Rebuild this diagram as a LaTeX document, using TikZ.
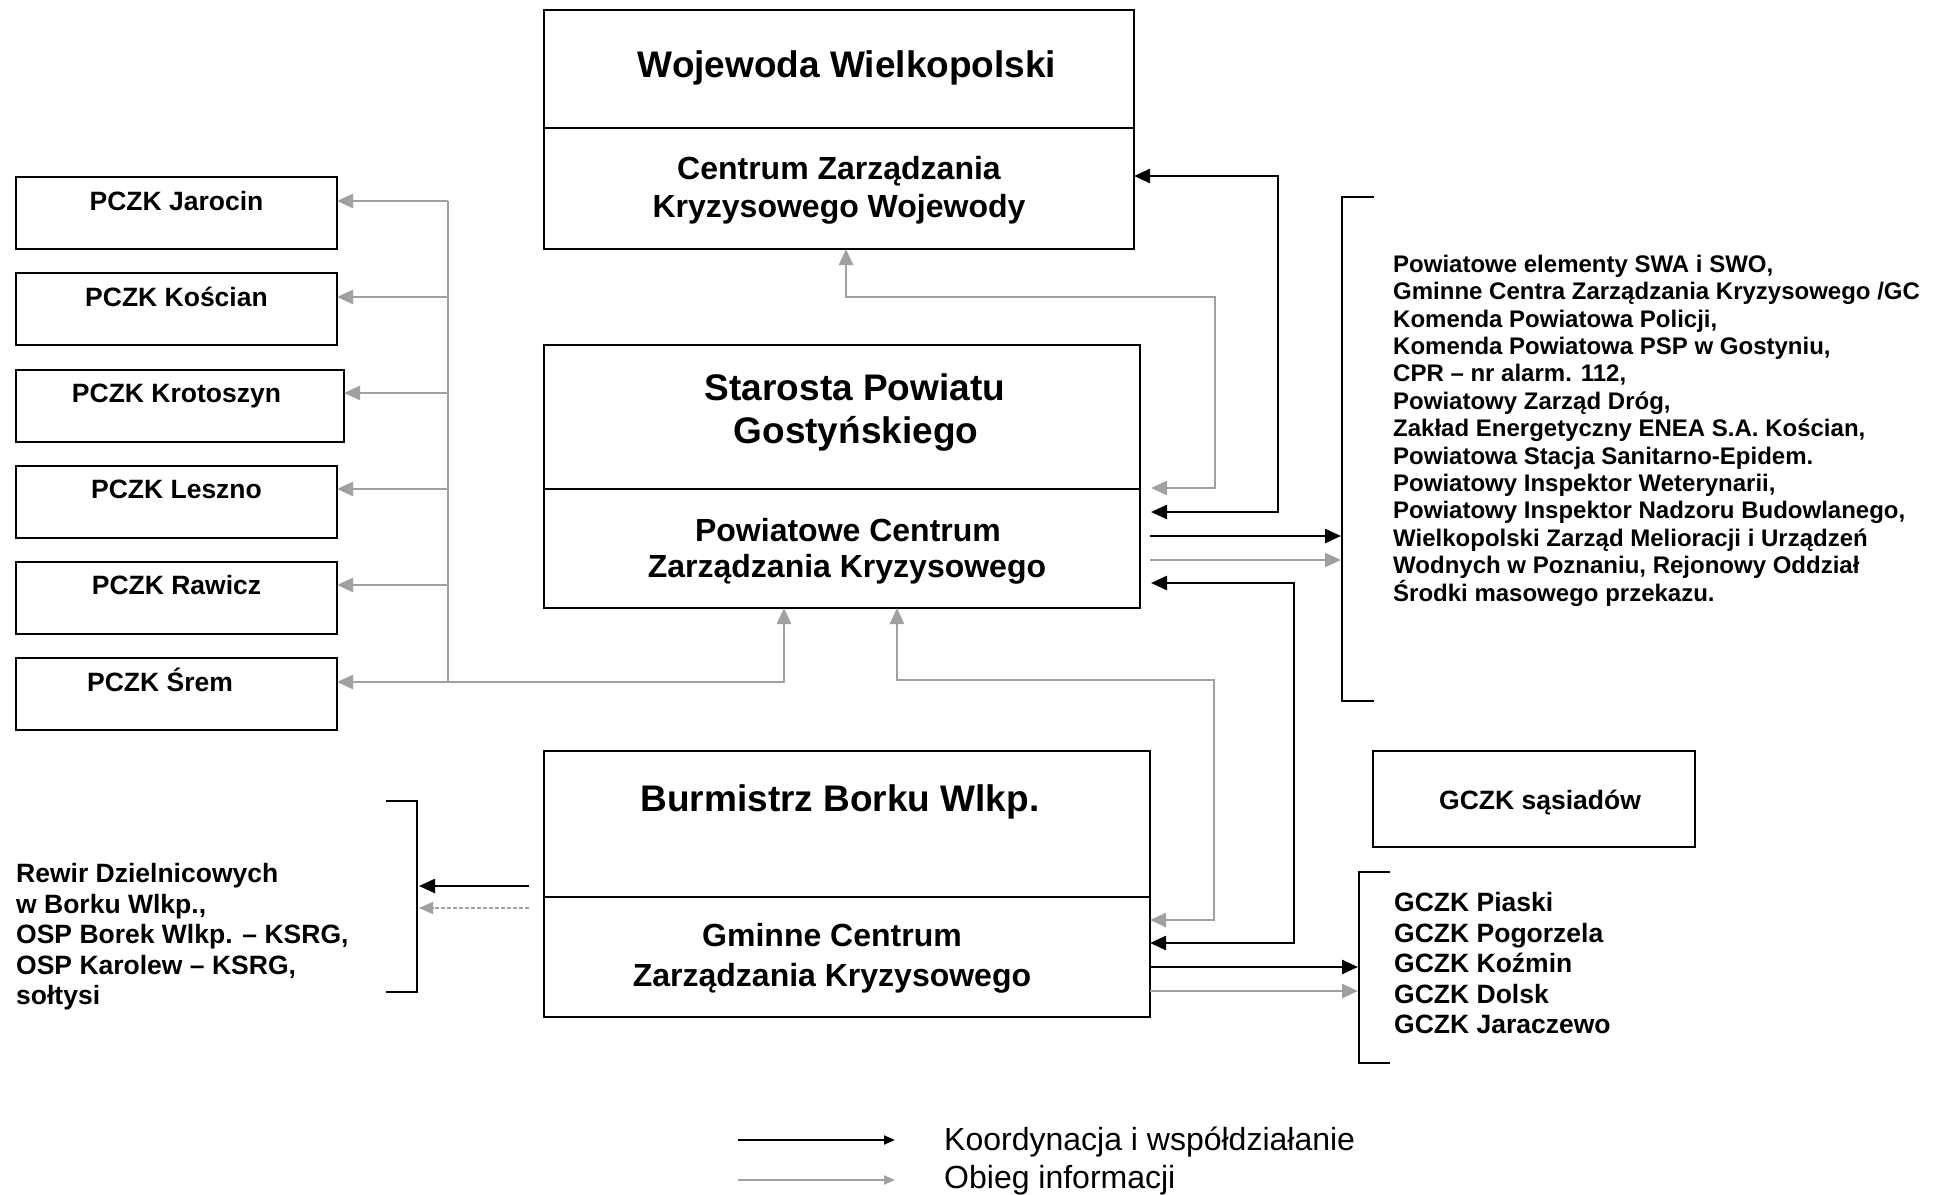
\documentclass[tikz,border=0pt]{standalone}
\usepackage{fontspec}
\setmainfont{Liberation Sans}
\usetikzlibrary{arrows.meta,calc}
\definecolor{infgray}{HTML}{A0A0A0}
\begin{document}
\begin{tikzpicture}[x=1pt,y=-1pt,
  box/.style={draw, line width=2.2pt, rectangle, inner sep=0pt, outer sep=0pt, anchor=north west},
  divline/.style={line width=2.2pt},
  co/.style={line width=2.5pt, draw=black},
  inf/.style={line width=2.5pt, draw=infgray},
  infdash/.style={line width=1.6pt, draw=infgray, dash pattern=on 4pt off 2pt},
  brk/.style={line width=2.2pt},
  ttl/.style={font=\fontsize{37}{42}\selectfont\bfseries, anchor=base, inner sep=0pt},
  sub/.style={font=\fontsize{32}{37}\selectfont\bfseries, anchor=base, inner sep=0pt},
  lab/.style={font=\fontsize{26.5}{30}\selectfont\bfseries, anchor=base, inner sep=0pt},
  labw/.style={font=\fontsize{26.5}{30}\selectfont\bfseries, anchor=base west, inner sep=0pt},
  lst/.style={font=\fontsize{24}{27}\selectfont\bfseries, anchor=base west, inner sep=0pt},
  legtxt/.style={font=\fontsize{32}{37}\selectfont, anchor=base west, inner sep=0pt},
  >={Triangle[length=16pt,width=14pt]}
]
\clip (0,0) rectangle (1935,1194);
\fill[white] (0,0) rectangle (1935,1194);

% ---- main boxes
\node[box, minimum width=590pt, minimum height=239pt] (woj) at (544,10) {};
\draw[divline] (woj.west |- 0,128) -- (woj.east |- 0,128);
\node[ttl] (wojt) at (847,77) {Wojewoda Wielkopolski};
\node[sub] (wojs1) at (839,179.5) {Centrum Zarządzania};
\node[sub] (wojs2) at (839,217.5) {Kryzysowego Wojewody};

\node[box, minimum width=596pt, minimum height=263pt] (staro) at (544,345) {};
\draw[divline] (staro.west |- 0,489) -- (staro.east |- 0,489);
\node[ttl] (start1) at (855,400) {Starosta Powiatu};
\node[ttl] (start2) at (856,443) {Gostyńskiego};
\node[sub] (stars1) at (848,541.5) {Powiatowe Centrum};
\node[sub] (stars2) at (847,577.5) {Zarządzania Kryzysowego};

\node[box, minimum width=606pt, minimum height=266pt] (bur) at (544,751) {};
\draw[divline] (bur.west |- 0,897) -- (bur.east |- 0,897);
\node[ttl] (burt) at (840,811) {Burmistrz Borku Wlkp.};
\node[sub] (burs1) at (832,946.5) {Gminne Centrum};
\node[sub] (burs2) at (832,986) {Zarządzania Kryzysowego};

% ---- PCZK boxes
\node[box, minimum width=321pt, minimum height=72pt] (jar) at (16,177) {};
\node[box, minimum width=321pt, minimum height=72pt] (kos) at (16,273) {};
\node[box, minimum width=328pt, minimum height=72pt] (kro) at (16,370) {};
\node[box, minimum width=321pt, minimum height=72pt] (les) at (16,466) {};
\node[box, minimum width=321pt, minimum height=72pt] (raw) at (16,562) {};
\node[box, minimum width=321pt, minimum height=72pt] (sre) at (16,658) {};
\node[lab] (jart) at (176.5,210.5) {PCZK Jarocin};
\node[lab] (kost) at (176.5,306.5) {PCZK Kościan};
\node[lab] (krot) at (176.5,402.5) {PCZK Krotoszyn};
\node[lab] (lest) at (176.5,498.5) {PCZK Leszno};
\node[lab] (rawt) at (176.5,594.5) {PCZK Rawicz};
\node[lab] (sret) at (160,691.5) {PCZK Śrem};

% ---- GCZK sasiadow
\node[box, minimum width=322pt, minimum height=96pt] (sas) at (1373,751) {};
\node[lab] (sast) at (1540,809.5) {GCZK sąsiadów};

% ---- brackets
\draw[brk] (1374,197) -- (1342,197) -- (1342,701) -- (1374,701);
\coordinate (br1) at (1341,450);
\draw[brk] (1390,872) -- (1359,872) -- (1359,1063) -- (1390,1063);
\coordinate (br2) at (1358,960);
\draw[brk] (386,801) -- (417,801) -- (417,992) -- (386,992);
\coordinate (brl) at (419,900);

% ---- right list
\foreach \t [count=\i from 0] in {{Powiatowe elementy SWA i SWO,},{Gminne Centra Zarządzania Kryzysowego /GC},{Komenda Powiatowa Policji,},{Komenda Powiatowa PSP w Gostyniu,},{CPR – nr alarm. 112,},{Powiatowy Zarząd Dróg,},{Zakład Energetyczny ENEA S.A. Kościan,},{Powiatowa Stacja Sanitarno-Epidem.},{Powiatowy Inspektor Weterynarii,},{Powiatowy Inspektor Nadzoru Budowlanego,},{Wielkopolski Zarząd Melioracji i Urządzeń},{Wodnych w Poznaniu, Rejonowy Oddział},{Środki masowego przekazu.}}
  \node[lst] (rl\i) at (1393,{272.2+27.4*\i}) {\t};

% ---- GCZK list
\foreach \t [count=\i from 0] in {Piaski,Pogorzela,Koźmin,Dolsk,Jaraczewo}
  \node[labw] (gl\i) at (1394,{911.5+30.5*\i}) {GCZK \t};

% ---- Rewir list
\foreach \t [count=\i from 0] in {{Rewir Dzielnicowych},{w Borku Wlkp.,},{OSP Borek Wlkp. – KSRG,},{OSP Karolew – KSRG,},{sołtysi}}
  \node[labw] (rw\i) at (16,{882.5+30.6*\i}) {\t};

% ---- grey: PCZK distribution
\draw[inf,<->] (sre.east |- 0,682) -- (784,682) -- (staro.south -| 784,0);
\draw[inf] (448,682) -- (448,201);
\draw[inf,->] (448,201) -- (jar.east |- 0,201);
\draw[inf,->] (448,297) -- (kos.east |- 0,297);
\draw[inf,->] (448,393) -- (kro.east |- 0,393);
\draw[inf,->] (448,489) -- (les.east |- 0,489);
\draw[inf,->] (448,585) -- (raw.east |- 0,585);

% ---- Wojewoda <-> Starosta
\draw[inf,<->] (woj.south -| 846,0) -- (846,297) -- (1215,297) -- (1215,488) -- ($(staro.east |- 0,488)+(11,0)$);
\draw[co,<->] (woj.east |- 0,176) -- (1278,176) -- (1278,512) -- ($(staro.east |- 0,512)+(11,0)$);

% ---- Starosta -> right bracket
\draw[co,->] ($(staro.east |- 0,536)+(10,0)$) -- (br1 |- 0,536);
\draw[inf,->] ($(staro.east |- 0,560)+(10,0)$) -- (br1 |- 0,560);

% ---- Starosta <-> Burmistrz
\draw[co,<->] ($(staro.east |- 0,583)+(11,0)$) -- (1294,583) -- (1294,943) -- (bur.east |- 0,943);
\draw[inf,<->] (staro.south -| 897,0) -- (897,680) -- (1214,680) -- (1214,920) -- (bur.east |- 0,920);

% ---- Burmistrz -> GCZK list
\draw[co,->] (bur.east |- 0,967) -- (br2 |- 0,967);
\draw[inf,->] (bur.east |- 0,991) -- (br2 |- 0,991);

% ---- Burmistrz -> Rewir
\draw[co,->] ($(bur.west |- 0,886)+(-15,0)$) -- (brl |- 0,886);
\draw[infdash,-{Triangle[length=14pt,width=12pt]}] ($(bur.west |- 0,908)+(-15,0)$) -- (brl |- 0,908);

% ---- legend
\coordinate (l1a) at (738,1140); \coordinate (l1b) at (895,1140);
\coordinate (l2a) at (738,1180); \coordinate (l2b) at (895,1180);
\draw[line width=2pt, -{Triangle[length=11pt,width=9pt]}] (l1a) -- (l1b);
\draw[line width=2pt, draw=infgray, -{Triangle[length=11pt,width=9pt]}] (l2a) -- (l2b);
\node[legtxt] (leg1) at (944,1150.5) {Koordynacja i współdziałanie};
\node[legtxt] (leg2) at (944,1188.5) {Obieg informacji};
\end{tikzpicture}
\end{document}
